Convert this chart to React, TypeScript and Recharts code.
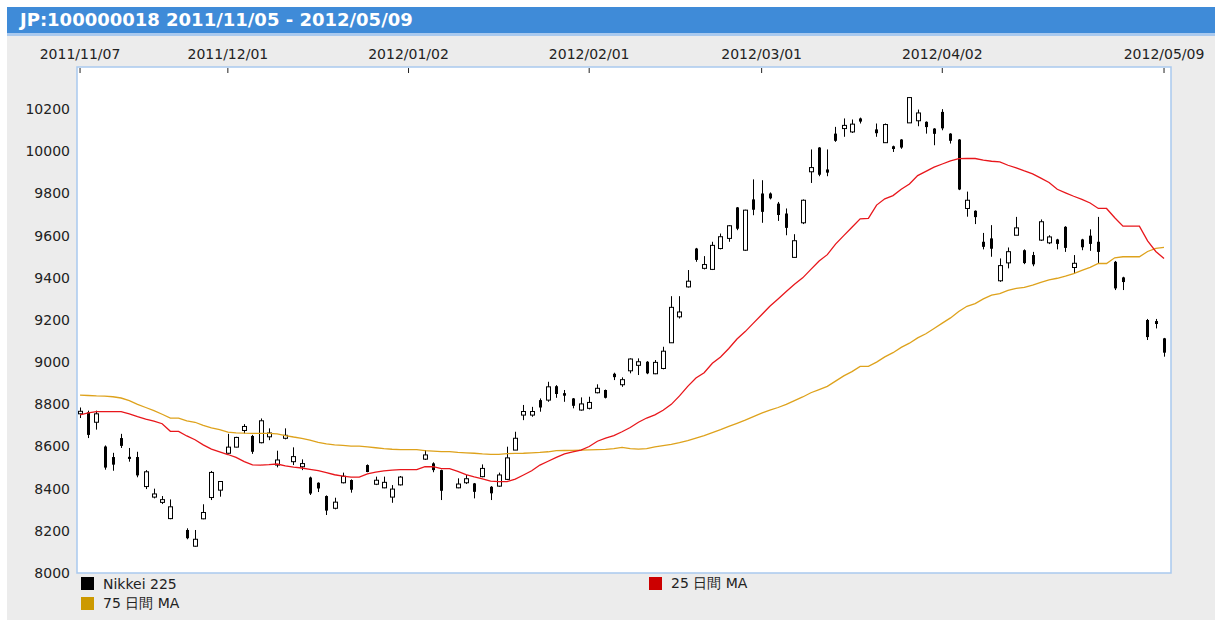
import { Bar, CartesianGrid, ComposedChart, Line, ReferenceArea, XAxis, YAxis } from "recharts";

// weekday calendar 2011/11/07 .. 2012/05/09 (holidays keep a slot but no candle)
const pad = (n: number) => String(n).padStart(2, "0");
const days: string[] = [];
for (let d = new Date(2011, 10, 7); d <= new Date(2012, 4, 9); d.setDate(d.getDate() + 1)) {
  const wd = d.getDay();
  if (wd === 0 || wd === 6) continue;
  days.push(`${d.getFullYear()}/${pad(d.getMonth() + 1)}/${pad(d.getDate())}`);
}

const tickLabels = ["2011/11/07", "2011/12/01", "2012/01/02", "2012/02/01", "2012/03/01", "2012/04/02", "2012/05/09"];
const priceTicks = [8000, 8200, 8400, 8600, 8800, 9000, 9200, 9400, 9600, 9800, 10000, 10200];

const _ = null;
const opens = [
  8755, 8762, 8715, 8600, 8550, 8640, 8551, 8550, 8410, 8360, 8335, 8258, _, 8204, 8127, 8257, 8358, 8393,
  8568, 8597, 8676, 8650, 8618, 8646, 8512, 8639, 8528, 8504, 8453, 8428, 8365, 8307, 8428, 8441, _, 8512, 8421, 8404, 8360, 8418,
  _, _, 8540, 8520, 8488, _, 8404, 8428, 8425, 8457, 8409, 8412, 8444, 8583, 8749, 8749, 8820, 8820, 8886, 8853, 8828, 8773,
  8781, 8855, 8868, 8945, 8893, 8959, 8985, 9002, 8945, 8970, 9092, 9215, 9357, 9539, 9445, 9440, 9539, 9587, 9734, 9531, 9772,
  9800, 9800, 9752, 9705, 9497, 9661, 9903, 10018, 9914, 10084, 10108, 10092, 10156, _, 10104, 10041, 10024, 10056, 10135, 10145, 10140, 10108,
  10187, 10084, 10056, 9729, 9718, 9571, 9587, 9386, 9471, 9602, 9531, 9508, 9579, 9566, 9582, 9642, 9449, 9582, 9600, 9571, _, 9476, 9402, _, _, 9200, 9195, 9113,
];
const highs = [
  8785, 8770, 8770, 8605, 8570, 8660, 8593, 8575, 8488, 8400, 8365, 8349, _, 8212, 8204, 8326, 8484, 8434,
  8660, 8646, 8706, 8655, 8733, 8686, 8580, 8686, 8596, 8539, 8457, 8430, 8368, 8357, 8476, 8444, _, 8515, 8457, 8457, 8417, 8460,
  _, _, 8583, 8525, 8490, _, 8449, 8465, 8427, 8515, 8412, 8476, 8599, 8670, 8797, 8788, 8828, 8907, 8891, 8868, 8830, 8833,
  8836, 8895, 8870, 8950, 8928, 9018, 9018, 9005, 9010, 9073, 9313, 9313, 9437, 9542, 9503, 9571, 9610, 9650, 9736, 9723, 9867,
  9863, 9805, 9760, 9729, 9607, 9772, 10009, 10020, 10009, 10116, 10156, 10151, 10160, _, 10132, 10132, 10027, 10058, 10255, 10198, 10142, 10110,
  10200, 10086, 10058, 9809, 9720, 9613, 9650, 9492, 9544, 9689, 9535, 9523, 9677, 9602, 9585, 9645, 9508, 9585, 9630, 9689, _, 9480, 9405, _, _, 9205, 9205, 9115,
];
const lows = [
  8735, 8640, 8680, 8490, 8485, 8593, 8528, 8454, 8398, 8354, 8327, 8255, _, 8160, 8125, 8255, 8346, 8362,
  8567, 8596, 8662, 8565, 8615, 8630, 8501, 8634, 8512, 8488, 8370, 8384, 8275, 8302, 8425, 8381, _, 8478, 8417, 8402, 8333, 8415,
  _, _, 8536, 8478, 8346, _, 8402, 8422, 8354, 8454, 8346, 8409, 8441, 8583, 8725, 8741, 8765, 8812, 8831, 8812, 8781, 8770,
  8776, 8852, 8828, 8915, 8883, 8947, 8939, 8943, 8943, 8966, 9092, 9207, 9354, 9476, 9440, 9437, 9535, 9571, 9626, 9528, 9697,
  9661, 9772, 9670, 9602, 9497, 9655, 9850, 9882, 9882, 10045, 10069, 10087, 10132, _, 10069, 10041, 9997, 10012, 10135, 10119, 10084, 10029,
  10100, 10037, 9816, 9690, 9655, 9535, 9500, 9381, 9445, 9602, 9465, 9455, 9575, 9560, 9535, 9523, 9421, 9531, 9528, 9468, _, 9342, 9342, _, _, 9105, 9160, 9026,
];
const closes = [
  8767, 8655, 8755, 8500, 8514, 8603, 8541, 8463, 8480, 8375, 8348, 8314, _, 8165, 8160, 8287, 8477, 8434,
  8597, 8643, 8695, 8575, 8722, 8664, 8536, 8653, 8552, 8519, 8377, 8401, 8296, 8336, 8459, 8395, _, 8479, 8440, 8430, 8398, 8455,
  _, _, 8560, 8488, 8390, _, 8422, 8447, 8385, 8496, 8378, 8465, 8546, 8639, 8766, 8766, 8785, 8883, 8849, 8841, 8793, 8802,
  8809, 8876, 8831, 8929, 8917, 9015, 9002, 8947, 8999, 9052, 9260, 9238, 9384, 9485, 9463, 9554, 9595, 9647, 9633, 9721, 9723,
  9713, 9777, 9698, 9637, 9576, 9768, 9923, 9889, 9899, 10050, 10123, 10129, 10141, _, 10086, 10127, 10011, 10018, 10255, 10182, 10115, 10083,
  10109, 10050, 9819, 9768, 9688, 9547, 9538, 9458, 9524, 9637, 9470, 9464, 9666, 9594, 9561, 9542, 9469, 9545, 9561, 9523, _, 9350, 9380, _, _, 9119, 9181, 9045,
];

const ma25 = [
  8750, 8760, 8765, 8765, 8765, 8765, 8755, 8742, 8730, 8720, 8708, 8672, 8672, 8650, 8632, 8608, 8588, 8575,
  8562, 8548, 8528, 8513, 8512, 8514, 8517, 8508, 8502, 8498, 8492, 8486, 8476, 8466, 8459, 8455, 8455, 8470, 8478, 8484, 8488, 8490,
  8490, 8490, 8505, 8504, 8495, 8495, 8482, 8467, 8456, 8447, 8436, 8433, 8433, 8445, 8465, 8485, 8512, 8530, 8548, 8565, 8575, 8583,
  8600, 8625, 8640, 8652, 8670, 8690, 8715, 8735, 8750, 8772, 8800, 8840, 8885, 8925, 8950, 8995, 9025, 9065, 9110, 9145, 9185,
  9225, 9265, 9300, 9335, 9370, 9400, 9440, 9480, 9510, 9560, 9600, 9640, 9680, 9682, 9745, 9775, 9790, 9820, 9845, 9885, 9905, 9925,
  9940, 9955, 9965, 9966, 9966, 9958, 9953, 9950, 9934, 9922, 9907, 9893, 9873, 9852, 9820, 9803, 9787, 9772, 9755, 9729, 9729, 9685, 9645, 9645, 9645, 9575, 9525, 9492,
];
const ma75 = [
  8844, 8842, 8840, 8839, 8836, 8830, 8818, 8800, 8785, 8770, 8753, 8735, 8735, 8722, 8715, 8700, 8688, 8680,
  8668, 8665, 8663, 8662, 8662, 8662, 8660, 8652, 8645, 8639, 8630, 8620, 8612, 8608, 8605, 8602, 8602, 8598, 8594, 8590, 8587, 8585,
  8585, 8585, 8580, 8578, 8576, 8576, 8572, 8570, 8568, 8565, 8563, 8563, 8566, 8567, 8568, 8570, 8572, 8575, 8580, 8581, 8582, 8583,
  8584, 8585, 8586, 8590, 8596, 8590, 8588, 8590, 8598, 8604, 8610, 8618, 8628, 8640, 8652, 8666, 8680, 8695, 8710, 8725, 8742,
  8758, 8772, 8785, 8800, 8818, 8835, 8855, 8870, 8885, 8910, 8935, 8955, 8980, 8980, 9000, 9025, 9045, 9070, 9090, 9115, 9135, 9160,
  9185, 9210, 9240, 9265, 9278, 9300, 9318, 9325, 9340, 9350, 9355, 9365, 9378, 9390, 9398, 9408, 9420, 9435, 9450, 9468, 9468, 9495, 9500, 9500, 9500, 9525, 9540, 9544,
];

const rows = days.map((day, i) => ({
  i,
  day,
  open: opens[i],
  high: highs[i],
  low: lows[i],
  close: closes[i],
  ma25: ma25[i],
  ma75: ma75[i],
}));
const tickIdx = tickLabels.map((t) => days.indexOf(t));

const X_MIN = -0.37;
const X_MAX = 132.85;
const FONT = "'DejaVu Sans', Tahoma, sans-serif";

function Candle(props: any) {
  const { x, y, width, height, payload } = props;
  if (!payload || payload.open == null || height == null) return null;
  const { open, high, low, close } = payload;
  const cx = Math.round(x + width / 2);
  const k = high === low ? 0 : height / (high - low);
  const yO = y + (high - open) * k;
  const yC = y + (high - close) * k;
  const top = Math.min(yO, yC);
  const bh = Math.max(Math.abs(yC - yO), 1);
  return (
    <g>
      <line x1={cx + 0.5} x2={cx + 0.5} y1={y} y2={y + height} stroke="#000" strokeWidth={1} />
      {close >= open ? (
        <rect x={cx - 1.5} y={top} width={4} height={bh} fill="#fff" stroke="#000" strokeWidth={1} />
      ) : (
        <rect x={cx - 1} y={top} width={3} height={bh} fill="#000" />
      )}
    </g>
  );
}

function DateTick(props: any) {
  const { x, y, payload } = props;
  return (
    <g>
      <line x1={x} x2={x} y1={y + 1} y2={y + 6} stroke="#222" strokeWidth={1} />
      <text x={x} y={y - 8} textAnchor="middle" fontSize={14} fill="#222" fontFamily={FONT}>
        {days[payload.value]}
      </text>
    </g>
  );
}

const legendItems = [
  { name: "Nikkei 225", color: "#000000" },
  { name: "25 日間 MA", color: "#cc0000" },
  { name: "75 日間 MA", color: "#cc9900" },
];

export default function App() {
  return (
    <div
      style={{
        position: "fixed",
        left: 7,
        top: 7,
        width: 1208,
        height: 613,
        background: "#ececec",
        overflow: "hidden",
        fontFamily: FONT,
      }}
    >
      <div
        style={{
          height: 26,
          lineHeight: "26px",
          background: "#3f8bd8",
          borderBottom: "3px solid #a9c9ee",
          color: "#fff",
          fontWeight: "bold",
          fontSize: 18,
          paddingLeft: 13,
        }}
      >
        JP:100000018 2011/11/05 - 2012/05/09
      </div>
      <div style={{ position: "absolute", left: 0, top: 0 }}>
        <ComposedChart width={1208} height={613} data={rows} margin={{ top: 36, right: 44, bottom: 47, left: 0 }}>
          <CartesianGrid fill="#ffffff" horizontal={false} vertical={false} />
          <XAxis
            dataKey="i"
            type="number"
            orientation="top"
            domain={[X_MIN, X_MAX]}
            allowDataOverflow
            ticks={tickIdx}
            interval={0}
            height={24}
            tickSize={0}
            tickMargin={0}
            axisLine={false}
            tickLine={false}
            tick={<DateTick />}
          />
          <YAxis
            domain={[8000, 10400]}
            allowDataOverflow
            ticks={priceTicks}
            interval={0}
            width={70}
            axisLine={false}
            tickLine={false}
            tickSize={6}
            tickMargin={1}
            tick={{ fontSize: 14, fill: "#222", fontFamily: FONT }}
          />
          <Line dataKey="ma75" type="linear" stroke="#dea21c" strokeWidth={1.3} dot={false} isAnimationActive={false} />
          <Line dataKey="ma25" type="linear" stroke="#e8161b" strokeWidth={1.3} dot={false} isAnimationActive={false} />
          <Bar
            dataKey={(d: any) => (d.open == null ? null : [d.low, d.high])}
            barSize={6}
            shape={<Candle />}
            isAnimationActive={false}
          />
          <ReferenceArea x1={X_MIN} x2={X_MAX} y1={8000} y2={10400} fill="none" stroke="#a9c9ee" strokeWidth={1.5} />
        </ComposedChart>
      </div>
      <div
        style={{
          position: "absolute",
          left: 74,
          top: 570,
          display: "grid",
          gridTemplateColumns: "568px 300px",
          rowGap: 7,
          fontSize: 14,
          color: "#222",
        }}
      >
        {legendItems.map((it) => (
          <div key={it.name} style={{ display: "flex", alignItems: "center", height: 13 }}>
            <span style={{ width: 13, height: 13, background: it.color, marginRight: 9 }} />
            <span>{it.name}</span>
          </div>
        ))}
      </div>
    </div>
  );
}
